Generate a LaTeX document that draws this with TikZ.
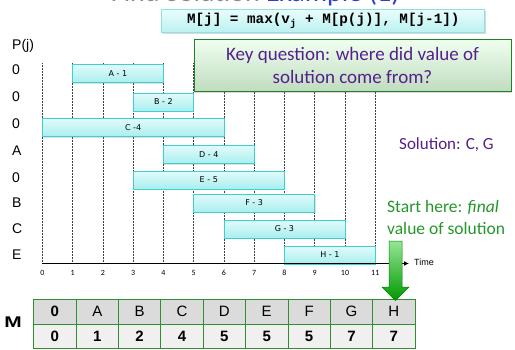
\documentclass[tikz,border=0pt]{standalone}
\usepackage{fontspec}
\setmainfont{Liberation Sans}
\newfontfamily\calfont{Carlito}
\newfontfamily\monofont{Liberation Mono}
\newfontfamily\dvfont{DejaVu Sans}
\usetikzlibrary{shadows,arrows.meta,calc}

\definecolor{barfillA}{HTML}{E2FBFB}
\definecolor{barfillB}{HTML}{A9EEEE}
\definecolor{barline}{HTML}{3FCFD0}
\definecolor{keypurple}{HTML}{55208C}
\definecolor{hintgreen}{HTML}{24962A}
\definecolor{gridgreen}{HTML}{2E8F2E}
\definecolor{titlegray}{HTML}{8A8A8A}
\definecolor{titleblue}{HTML}{2B3FD0}

\tikzset{
  interval/.style={draw=barline, line width=0.8pt, top color=barfillA, bottom color=barfillB,
    minimum height=18pt, inner sep=0pt,
    drop shadow={shadow xshift=0.8pt, shadow yshift=-1pt, opacity=0.25},
    font=\dvfont\fontsize{8}{9}\selectfont},
  plabel/.style={anchor=west, inner sep=0pt, font=\fontsize{14}{16}\selectfont},
  tick/.style={inner sep=0pt, font=\calfont\fontsize{8}{9}\selectfont},
  gridline/.style={densely dotted, line width=0.5pt, black!75},
  cellhead/.style={draw=gridgreen, line width=0.8pt, fill=black!14, minimum width=42.37pt,
    minimum height=24.6pt, inner sep=0pt, font=\fontsize{15}{17}\selectfont},
  cellval/.style={draw=gridgreen, line width=0.8pt, fill=black!6, minimum width=42.37pt,
    minimum height=24.6pt, inner sep=0pt, font=\bfseries\fontsize{15}{17}\selectfont},
}

\begin{document}
\begin{tikzpicture}[x=1pt,y=-1pt]
\useasboundingbox (0,0) rectangle (515,349);

% heading (only its lower edge lies on the page)
\node[anchor=base east, inner sep=0pt, font=\calfont\fontsize{28}{30}\selectfont]
  (heading) at (400,1.5) {\textcolor{titlegray}{Find Solution} \textcolor{titleblue}{Example (1)}};

% recurrence
\node[draw=barline!60, line width=0.8pt, top color=barfillA!70, bottom color=barfillB!80,
  minimum width=323pt, minimum height=23.4pt, inner sep=0pt,
  drop shadow={shadow xshift=1pt, shadow yshift=-1.2pt, opacity=0.3},
  font=\monofont\bfseries\fontsize{14.3}{16}\selectfont]
  (rec) at (323.3,21) {M[j] = max(v\textsubscript{j} + M[p(j)], M[j-1])};

% time grid
\foreach \t in {0,...,11} {
  \coordinate (top\t) at ({42.3+30.27*\t},63);
  \coordinate (bot\t) at ({42.3+30.27*\t},263.5);
  \draw[gridline] (top\t) -- (bot\t);
  \node[tick] (tk\t) at ({42.3+30.27*\t},273) {\t};
}

% p(j) column
\node[plabel] (phead) at (12,46) {P(j)};
\foreach \lab/\yy [count=\i] in {0/70,0/97,0/124,A/151,0/178,B/203,C/229,E/255}
  \node[plabel] (p\i) at (12,\yy) {\lab};

% intervals: name, start, finish, centre row
\foreach \nm/\lab/\s/\f/\yy in {A/A - 1/1/4/73.5, B/B - 2/3/5/102, C/C -4/0/6/127.5,
    D/D - 4/4/7/154.5, E/E - 5/3/8/180, F/F - 3/5/9/203, G/G - 3/6/10/229, H/H - 1/8/11/255}
  \node[interval, minimum width={30.27*(\f-\s)}] (bar\nm) at ({42.3+30.27*(\s+\f)/2},\yy) {\lab};

% time axis
\coordinate (axisend) at (409,263.5);
\draw[line width=1.6pt, -{Latex[length=5pt,width=5pt]}] (bot0) -- (axisend);
\node[anchor=west, inner sep=0pt, font=\fontsize{9}{10}\selectfont] (timelab) at (414,262) {Time};

% key question
\node[draw=hintgreen!85!black, line width=0.8pt, top color=green!6!white, bottom color=green!45!black!25!white,
  minimum width=317pt, minimum height=52.4pt, inner sep=0pt, align=center,
  drop shadow={shadow xshift=1pt, shadow yshift=-1.2pt, opacity=0.3},
  font=\calfont\fontsize{19}{23}\selectfont, text=keypurple]
  (key) at (352.5,65.5) {Key question: where did value of\\solution come from?};

\node[anchor=west, inner sep=0pt, font=\calfont\fontsize{17}{20}\selectfont, text=keypurple]
  (sol) at (399,145) {Solution: C, G};

\node[anchor=north west, inner sep=0pt, align=left, font=\calfont\fontsize{17.5}{21.6}\selectfont, text=hintgreen]
  (start) at (387,200.5) {Start here: \textit{final}\\value of solution};

% table M
\node[anchor=center, inner sep=0pt, font=\bfseries\fontsize{15.5}{17}\selectfont]
  (mlabel) at (13,322) {\scalebox{1.35}[1]{M}};
\foreach \h/\v [count=\i from 0] in {\textbf{0}/0,A/1,B/2,C/4,D/5,E/5,F/5,G/7,H/7} {
  \node[cellhead] (h\i) at ({33.7+42.37*(\i+0.5)},311.8) {\h};
  \node[cellval] (v\i) at ({33.7+42.37*(\i+0.5)},336.4) {\v};
}

% pointer to the final entry
\coordinate (arrtop) at (395.5,241);
\coordinate (arrtip) at (395.5,300.5);
\shade[top color=green!35!white!90!black, bottom color=green!60!black, draw=green!50!black, line width=0.5pt]
  (389,241) -- (402,241) -- (402,287) -- (409,287) -- (arrtip) -- (382,287) -- (389,287) -- cycle;
\end{tikzpicture}
\end{document}
